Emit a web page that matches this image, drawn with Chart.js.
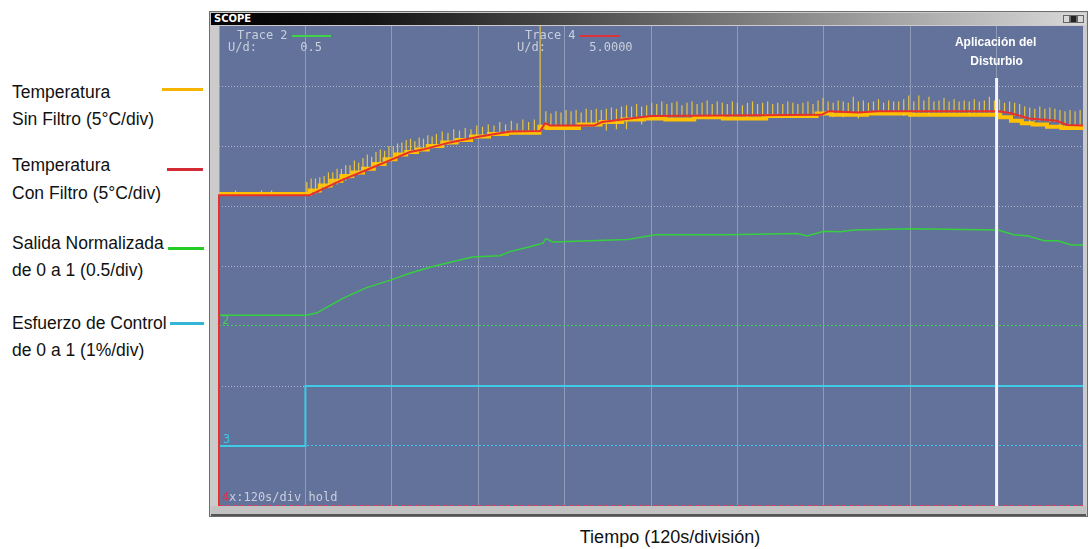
<!DOCTYPE html>
<html>
<head>
<meta charset="utf-8">
<script src="https://cdn.jsdelivr.net/npm/chart.js@4.4.0/dist/chart.umd.min.js"></script>
<style>
  body { margin:0; width:1089px; height:549px; background:#fff; position:relative; overflow:hidden; font-family:"Liberation Sans", Arial, sans-serif; }
  .lbl { position:absolute; left:12px; font-size:17.5px; line-height:20px; color:#111; white-space:nowrap; }
  .key { position:absolute; height:3px; }
  #win { position:absolute; left:209px; top:11px; width:879px; height:506px; background:#cbcbcb; border:1px solid #6d6d6d; box-sizing:border-box; }
  #titlebar { position:absolute; left:211px; top:13px; width:875px; height:12px; background:linear-gradient(to right,#000 0%,#141414 18%,#7a7a7a 60%,#d9d9d9 100%); }
  #titlebar span { position:absolute; left:3px; top:0; font:bold 10px "DejaVu Sans", sans-serif; color:#fff; line-height:12px; }
  .btn { position:absolute; top:15px; width:7px; height:8px; background:#d8d8d8; border:1px solid #666; box-sizing:border-box; }
  #plotbg { position:absolute; left:219px; top:26px; width:864px; height:480px; background:#63729b; }
  #bottombar { position:absolute; left:211px; top:506px; width:875px; height:8px; background:#c2c2c2; border-bottom:2px solid #555; }
  #c { position:absolute; left:217px; top:24px; }
  .mono { position:absolute; font:12px "DejaVu Sans Mono", monospace; color:#c9cfdd; line-height:14px; white-space:pre; }
  .seg { position:absolute; height:2px; }
</style>
</head>
<body>
<div class="lbl" style="top:82px">Temperatura</div>
<div class="lbl" style="top:109px">Sin Filtro (5°C/div)</div>
<div class="lbl" style="top:155px">Temperatura</div>
<div class="lbl" style="top:183px">Con Filtro (5°C/div)</div>
<div class="lbl" style="top:233px">Salida Normalizada</div>
<div class="lbl" style="top:260px">de 0 a 1 (0.5/div)</div>
<div class="lbl" style="top:313px">Esfuerzo de Control</div>
<div class="lbl" style="top:340px">de 0 a 1 (1%/div)</div>
<div class="key" style="left:162px;top:88px;width:41px;background:#f6b400"></div>
<div class="key" style="left:167px;top:168px;width:36px;background:#d42a36"></div>
<div class="key" style="left:168px;top:247px;width:36px;background:#22cc22"></div>
<div class="key" style="left:170px;top:322px;width:34px;background:#33b5d5"></div>

<div id="win"></div>
<div id="titlebar"><span>SCOPE</span></div>
<div class="btn" style="left:1063px"></div>
<div class="btn" style="left:1070px;background:#222"></div>
<div class="btn" style="left:1077px"></div>
<div id="plotbg"></div>
<div id="bottombar"></div>
<canvas id="c" width="868" height="484"></canvas>

<div class="mono" style="left:237px;top:28px">Trace 2</div>
<div class="seg" style="left:292px;top:35px;width:39px;background:#3fd24a"></div>
<div class="mono" style="left:228px;top:40px">U/d:      0.5</div>
<div class="mono" style="left:525px;top:28px">Trace 4</div>
<div class="seg" style="left:580px;top:35px;width:40px;background:#e0303a"></div>
<div class="mono" style="left:517px;top:40px">U/d:      5.0000</div>
<div class="mono" style="left:222px;top:313px;color:#3fd24a">2</div>
<div class="mono" style="left:223px;top:432px;color:#3cc8e8">3</div>
<div class="mono" style="left:222px;top:490px;color:#e0304a">4</div>
<div class="mono" style="left:229px;top:490px">x:120s/div hold</div>

<div style="position:absolute;left:560px;top:527px;width:220px;text-align:center;font-size:18px;line-height:20px;color:#111">Tiempo (120s/división)</div>

<script>
// Temperatura con filtro (°C) - Trace 4
var redTime = [0, 0, 126, 140, 172, 205, 237, 265, 283, 321, 362, 405, 446, 453, 460, 521, 532, 600, 837, 847, 888, 915, 1083, 1099, 1125, 1163, 1178, 1200];
var redTemp = [0, 25.9, 25.9, 26.3, 27.2, 28.0, 28.8, 29.5, 29.7, 30.3, 30.8, 31.2, 31.25, 31.9, 31.7, 31.7, 32.0, 32.5, 32.6, 32.9, 32.8, 32.9, 32.9, 32.75, 32.3, 32.1, 31.75, 31.7];

// Temperatura sin filtro (°C): nivel cuantizado + picos de ruido [t, bajo, alto]
var yellowBandTime = [0, 126, 140, 155, 170, 185, 200, 215, 230, 245, 260, 275, 290, 310, 330, 350, 375, 400, 425, 445, 455, 500, 530, 560, 590, 620, 660, 700, 760, 830, 850, 900, 960, 1000, 1085, 1100, 1115, 1130, 1150, 1170, 1185, 1200];
var yellowBandTemp = [25.9, 26.0, 26.3, 26.7, 27.1, 27.5, 27.8, 28.1, 28.5, 28.9, 29.3, 29.5, 29.7, 30.0, 30.3, 30.5, 30.8, 31.0, 31.1, 31.1, 31.6, 31.5, 31.8, 32.0, 32.2, 32.3, 32.2, 32.4, 32.3, 32.5, 32.7, 32.6, 32.7, 32.6, 32.6, 32.4, 32.1, 31.9, 31.8, 31.6, 31.5, 31.5];
var yellowSpikes = [
  [23,25.9,26.3],[59,25.9,26.3],[73,25.9,26.3],
  [122,25.9,27.0],[128,25.9,27.3],[134,26.0,27.3],[140,26.2,27.4],[146,26.4,27.5],[152,26.5,27.8],
  [158,26.7,27.8],[164,26.8,28.1],[170,27.0,28.1],[176,27.1,28.4],[182,27.3,28.4],[188,27.5,28.8],
  [194,27.6,28.6],[200,27.8,29.0],[206,28.0,29.3],[212,28.1,29.1],[218,28.3,29.5],[224,28.4,29.7],
  [230,28.6,29.6],[236,28.7,30.0],[242,28.9,30.0],[248,29.0,30.2],[254,29.2,30.3],[260,29.3,30.5],
  [266,29.4,30.6],[272,29.5,30.4],[278,29.6,30.7],[284,29.7,30.6],[290,29.7,30.9],[296,29.8,30.8],
  [302,29.9,31.0],[310,30.0,31.2],[318,30.1,31.1],[326,30.2,31.4],[334,30.3,31.3],[342,30.4,31.5],
  [350,30.5,31.4],[358,30.6,31.7],[366,30.7,31.6],[374,30.8,31.8],[382,30.9,31.7],[390,30.9,32.0],
  [398,31.0,31.8],[406,31.1,32.1],[414,31.1,31.9],[422,31.0,32.2],[430,31.1,32.0],[438,31.1,32.2],
  [446,31.2,40.5],
  [454,31.7,32.9],[461,31.7,32.7],[468,31.6,32.9],[475,31.7,32.8],[482,31.7,33.0],[489,31.6,32.9],
  [496,31.7,33.0],[503,31.7,32.8],[510,31.7,33.1],[517,31.8,33.0],[524,31.9,33.1],
  [531,32.0,33.0],[538,31.3,33.1],[545,32.1,33.2],[552,31.4,33.1],[559,32.2,33.3],[566,31.4,33.4],
  [573,32.3,33.3],[580,32.3,33.5],[587,31.8,33.3],[594,32.4,33.4],
  [601,32.5,33.6],[608,32.4,33.5],[615,32.5,33.7],[622,32.5,33.5],[629,32.4,33.6],[636,32.5,33.7],
  [643,32.5,33.4],[650,32.4,33.6],[657,32.5,33.7],[664,32.5,33.5],[671,32.4,33.6],[678,32.5,33.8],
  [685,32.5,33.5],[692,32.4,33.7],[699,32.5,33.6],[706,32.5,33.5],[713,32.4,33.7],[720,32.5,33.6],
  [727,32.5,33.4],[734,32.4,33.6],[741,32.5,33.7],[748,32.5,33.5],[755,32.4,33.6],[762,32.5,33.7],
  [769,32.5,33.5],[776,32.4,33.6],[783,32.5,33.5],[790,32.5,33.7],[797,32.4,33.6],[804,32.5,33.5],
  [811,32.5,33.6],[818,32.4,33.7],[825,32.5,33.5],[832,32.6,33.8],
  [839,32.7,34.0],[846,32.8,33.7],[853,32.4,33.6],[860,32.8,33.8],[867,32.4,33.7],[874,32.8,33.6],
  [881,32.8,34.1],[888,32.3,33.7],[895,32.8,33.8],[902,32.8,33.6],[909,32.8,33.7],[916,32.8,33.9],
  [923,32.8,33.6],[930,32.8,33.8],[937,32.8,33.7],[944,32.8,33.7],[951,32.5,33.9],[958,32.8,34.2],
  [965,32.5,33.7],[972,32.8,34.2],[979,32.8,33.8],[986,32.5,34.1],[993,32.8,33.7],[1000,32.8,33.8],
  [1007,32.8,34.0],[1014,32.8,33.7],[1021,32.8,33.9],[1028,32.8,33.7],[1035,32.8,33.8],[1042,32.5,33.7],
  [1049,32.8,33.9],[1056,32.8,33.7],[1063,32.8,33.8],[1070,32.8,34.1],[1077,32.8,33.8],[1084,32.8,33.9],
  [1091,32.8,33.6],[1098,32.7,33.7],[1105,32.5,33.6],[1112,32.4,33.5],[1119,32.3,33.3],[1126,31.9,33.2],
  [1133,32.1,33.1],[1140,32.1,33.3],[1147,32.1,33.1],[1154,32.0,33.2],[1161,32.0,33.1],[1168,31.6,33.0],
  [1175,31.6,32.9],[1182,31.6,33.0],[1189,31.6,32.9],[1196,31.6,33.0]
];

// Salida normalizada (0..1) - Trace 2
var greenTime = [0, 122, 136, 172, 205, 237, 265, 293, 320, 352, 390, 404, 432, 450, 454, 463, 515, 568, 606, 705, 803, 817, 840, 863, 881, 961, 1082, 1104, 1124, 1146, 1165, 1184, 1200];
var greenValue = [0.09, 0.09, 0.11, 0.23, 0.32, 0.38, 0.44, 0.49, 0.53, 0.575, 0.585, 0.62, 0.66, 0.69, 0.73, 0.70, 0.71, 0.72, 0.76, 0.76, 0.77, 0.75, 0.79, 0.785, 0.80, 0.81, 0.80, 0.76, 0.75, 0.71, 0.71, 0.675, 0.675];

// Esfuerzo de control - Trace 3
var cyanTime = [0, 120, 120, 1200];
var cyanValue = [0, 0, 1, 1];

var disturbanceTime = 1080;
var disturbanceLabel = ["Aplicación del", "Disturbio"];

function pts(xs, ys) { return xs.map(function (x, i) { return { x: x, y: ys[i] }; }); }

var spikeData = [];
yellowSpikes.forEach(function (s) {
  spikeData.push({ x: s[0], y: s[1] }, { x: s[0], y: s[2] }, { x: s[0], y: null });
});

var refLines = [
  { axis: 'yG', value: 0, color: '#3fd24a', dash: [2, 2] },
  { axis: 'yC', value: 0, color: '#3cc8e8', dash: [2, 2] },
  { axis: 'yT', value: 0, color: '#e0405a', dash: [4, 3] }
];

var scopePlugin = {
  id: 'scope',
  beforeDatasetsDraw: function (chart) {
    var ctx = chart.ctx, a = chart.chartArea;
    refLines.forEach(function (r) {
      var y = Math.round(chart.scales[r.axis].getPixelForValue(r.value)) - 0.5;
      ctx.save();
      ctx.strokeStyle = r.color; ctx.lineWidth = 1; ctx.setLineDash(r.dash);
      ctx.beginPath(); ctx.moveTo(a.left, y); ctx.lineTo(a.right, y); ctx.stroke();
      ctx.restore();
    });
  },
  afterDatasetsDraw: function (chart) {
    var ctx = chart.ctx, a = chart.chartArea;
    var x = chart.scales.x.getPixelForValue(disturbanceTime);
    ctx.save();
    ctx.strokeStyle = '#f2f4f8'; ctx.lineWidth = 3;
    ctx.beginPath(); ctx.moveTo(x, a.top + 52); ctx.lineTo(x, a.bottom); ctx.stroke();
    ctx.fillStyle = '#ffffff';
    ctx.font = 'bold 12px "Liberation Sans", Arial, sans-serif';
    ctx.textAlign = 'center'; ctx.textBaseline = 'middle';
    ctx.fillText(disturbanceLabel[0], x - 1, a.top + 17);
    ctx.fillText(disturbanceLabel[1], x, a.top + 36);
    ctx.restore();
  }
};

var ctx = document.getElementById("c");
var myChart = new Chart(ctx, {
  type: 'line',
  data: {
    datasets: [
      { label: "Temperatura Con Filtro", data: pts(redTime, redTemp), yAxisID: 'yT', borderColor: "#e8302a", borderWidth: 2, clip: 4 },
      { label: "picos", data: spikeData, yAxisID: 'yT', borderColor: "rgba(240,200,60,0.95)", borderWidth: 1.2, spanGaps: false },
      { label: "Temperatura Sin Filtro", data: pts(yellowBandTime, yellowBandTemp), yAxisID: 'yT', borderColor: "#ffc000", borderWidth: 4, stepped: 'after' },
      { label: "Salida Normalizada", data: pts(greenTime, greenValue), yAxisID: 'yG', borderColor: "#36cf3e", borderWidth: 1.5 },
      { label: "Esfuerzo de Control", data: pts(cyanTime, cyanValue), yAxisID: 'yC', borderColor: "#3dcbe6", borderWidth: 2 }
    ]
  },
  options: {
    responsive: false,
    animation: false,
    events: [],
    layout: { padding: 2 },
    elements: { point: { radius: 0 }, line: { tension: 0, fill: false } },
    plugins: { legend: { display: false }, tooltip: { enabled: false } },
    scales: {
      x: {
        type: 'linear', min: 0, max: 1200,
        ticks: { display: false, stepSize: 120 },
        grid: { color: 'rgba(200,206,222,0.45)', drawTicks: false },
        border: { display: false }
      },
      y: {
        position: 'left', min: 0, max: 8,
        ticks: { display: false, stepSize: 1 },
        grid: {
          drawTicks: false,
          color: function (c) { return [0, 1, 3, 8].indexOf(c.tick.value) >= 0 ? 'rgba(0,0,0,0)' : 'rgba(190,198,216,0.8)'; }
        },
        border: { display: false, dash: [1, 2] }
      },
      yT: { display: false, min: 0, max: 40 },
      yG: { display: false, min: -1.5, max: 2.5 },
      yC: { display: false, min: -1, max: 7 }
    }
  },
  plugins: [scopePlugin]
});
</script>
</body>
</html>
